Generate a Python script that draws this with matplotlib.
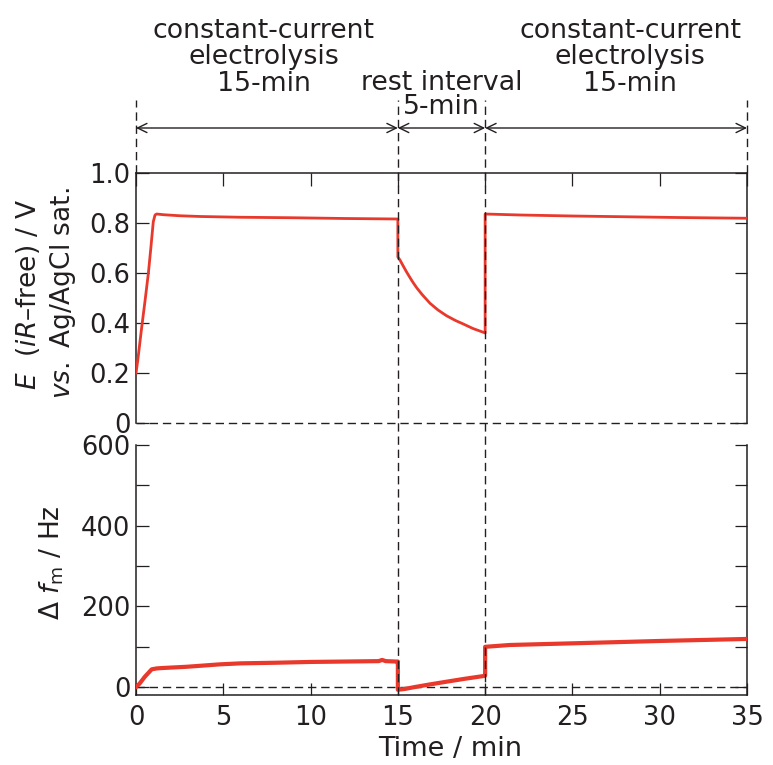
import numpy as np
import matplotlib
matplotlib.use("Agg")
import matplotlib.pyplot as plt
from matplotlib.ticker import FixedLocator
from matplotlib.lines import Line2D
from matplotlib import transforms

plt.rcParams['font.family'] = ['DejaVu Sans']
plt.rcParams['mathtext.fontset'] = 'dejavusans'

# Potential (iR-free) vs. time, electrolysis / rest / electrolysis
t_E = [0, 0.1, 0.33, 0.52, 0.71, 0.85, 0.99, 1.09, 1.18, 1.6, 2.5, 3.7, 6.0, 9.0, 12.0, 15.0,
       15.0, 15.12, 15.3, 15.5, 15.7, 15.88, 16.1, 16.4, 16.84, 17.3, 17.79, 18.3, 18.75,
       19.3, 19.93, 20.0,
       20.0, 22.0, 25.0, 28.0, 31.0, 35.0]
E = [0.20, 0.25, 0.385, 0.49, 0.60, 0.70, 0.805, 0.832, 0.836, 0.833, 0.829, 0.826, 0.823,
     0.821, 0.818, 0.816,
     0.664, 0.652, 0.629, 0.604, 0.581, 0.561, 0.539, 0.513, 0.479, 0.452, 0.429, 0.410, 0.396,
     0.378, 0.362, 0.360,
     0.836, 0.832, 0.828, 0.825, 0.822, 0.819]

# Mass frequency change vs. time
t_f = [0, 0.2, 0.5, 0.9, 1.2, 1.55, 2.9, 4.8, 6.0, 8.0, 10.0, 12.0, 13.9, 14.1, 14.3, 14.9, 15.0,
       15.0, 15.4, 15.88, 16.8, 17.79, 18.8, 19.9, 20.0,
       20.0, 21.4, 24.0, 26.6, 30.0, 33.0, 35.0]
df = [0, 8, 25, 43.7, 46, 47, 50, 56, 58.5, 60, 62, 63, 64, 67, 64, 63, 63,
      -7, -5, -1, 6, 13, 20, 27, 28,
      99.5, 104, 107, 110, 114, 117, 119]

x_ticks = [0, 5, 10, 15, 20, 25, 30, 35]
E_ticks = [0, 0.2, 0.4, 0.6, 0.8, 1.0]
E_ticklabels = ['0', '0.2', '0.4', '0.6', '0.8', '1.0']
f_ticks = [0, 200, 400, 600]
f_minor = [100, 300, 500]
boundaries = [0, 15, 20, 35]

red = '#e8392c'
ink = '#231f20'
dash = (0, (6, 3.5))
fs = 18.5
fs_title = 19.3

fig = plt.figure(figsize=(7.73, 7.65), dpi=100)
W, H = 773, 765
ax1 = fig.add_axes([136 / W, 1 - 423 / H, 611 / W, 250 / H])
ax2 = fig.add_axes([136 / W, 1 - 695 / H, 611 / W, 250 / H])
for ax in (ax1, ax2):
    ax.patch.set_visible(False)
    ax.set_xlim(0, 35)
    for s in ax.spines.values():
        s.set_linewidth(1.1)
        s.set_color(ink)
    ax.tick_params(direction='in', length=9, width=0.9, color=ink, labelcolor=ink,
                   labelsize=fs, left=True, right=True, which='both')
    ax.set_xticks(x_ticks)

# upper panel: potential
ax1.plot(t_E, E, color=red, lw=2, zorder=3)
ax1.set_ylim(0, 1)
ax1.spines['bottom'].set_visible(False)
ax1.set_yticks(E_ticks)
ax1.set_yticklabels(E_ticklabels)
ax1.tick_params(axis='x', bottom=False, top=True, labelbottom=False)
ax1.tick_params(axis='y', pad=4)
ax1.axhline(0, color=ink, lw=1, ls=dash, clip_on=False)

# lower panel: frequency change
ax2.plot(t_f, df, color=red, lw=3, zorder=3)
ax2.set_ylim(-20, 600)
ax2.spines['top'].set_visible(False)
ax2.set_yticks(f_ticks)
ax2.yaxis.set_minor_locator(FixedLocator(f_minor))
ax2.tick_params(axis='x', top=False, pad=7)
ax2.tick_params(axis='y', pad=4)
ax2.axhline(0, color=ink, lw=1, ls=dash)

# period boundaries: x in data units, y in figure fraction
bt = transforms.blended_transform_factory(ax1.transData, fig.transFigure)
y_top = 1 - 100 / H
y_mid = 1 - 173 / H
y_bot = 1 - 695 / H
for x in boundaries:
    lo = y_mid if x in (0, 35) else y_bot
    fig.add_artist(Line2D([x, x], [lo, y_top], color=ink, lw=1, ls=dash, transform=bt,
                          zorder=4))

y_arrow = 1 - 128 / H
for a, b in zip(boundaries[:-1], boundaries[1:]):
    ax1.annotate('', xy=(b, y_arrow), xytext=(a, y_arrow), xycoords=bt, textcoords=bt,
                 annotation_clip=False,
                 arrowprops=dict(arrowstyle='<->,head_length=0.45,head_width=0.22',
                                 mutation_scale=15, lw=1, color=ink,
                                 shrinkA=0, shrinkB=0))

period_lines = ['constant-current', 'electrolysis', '15-min']
for xc in (7.33, 28.3):
    for line, yb in zip(period_lines, (38, 64.5, 91)):
        fig.text(xc, 1 - yb / H, line, ha='center', va='baseline', fontsize=fs_title,
                 color=ink, transform=bt)
fig.text(17.5, 1 - 90 / H, 'rest interval', ha='center', va='baseline', fontsize=fs_title,
         color=ink, transform=bt)
fig.text(17.5, 1 - 114 / H, '5-min', ha='center', va='baseline', fontsize=fs_title,
         color=ink, transform=bt)

# axis labels
fig.text(28 / W, 1 - 295 / H, r'$E$  ($iR$–free) / V', rotation=90, ha='center',
         va='center', fontsize=19, color=ink)
fig.text(63 / W, 1 - 293 / H, r'$vs.$ Ag/AgCl sat.', rotation=90, ha='center',
         va='center', fontsize=19, color=ink)
fig.text(52 / W, 1 - 563 / H, r'Δ $f_{\mathrm{m}}$ / Hz', rotation=90, ha='center',
         va='center', fontsize=19, color=ink)
fig.text(450 / W, 1 - 756 / H, 'Time / min', ha='center', va='baseline',
         fontsize=19.5, color=ink)

fig.savefig('out.png', dpi=100)
